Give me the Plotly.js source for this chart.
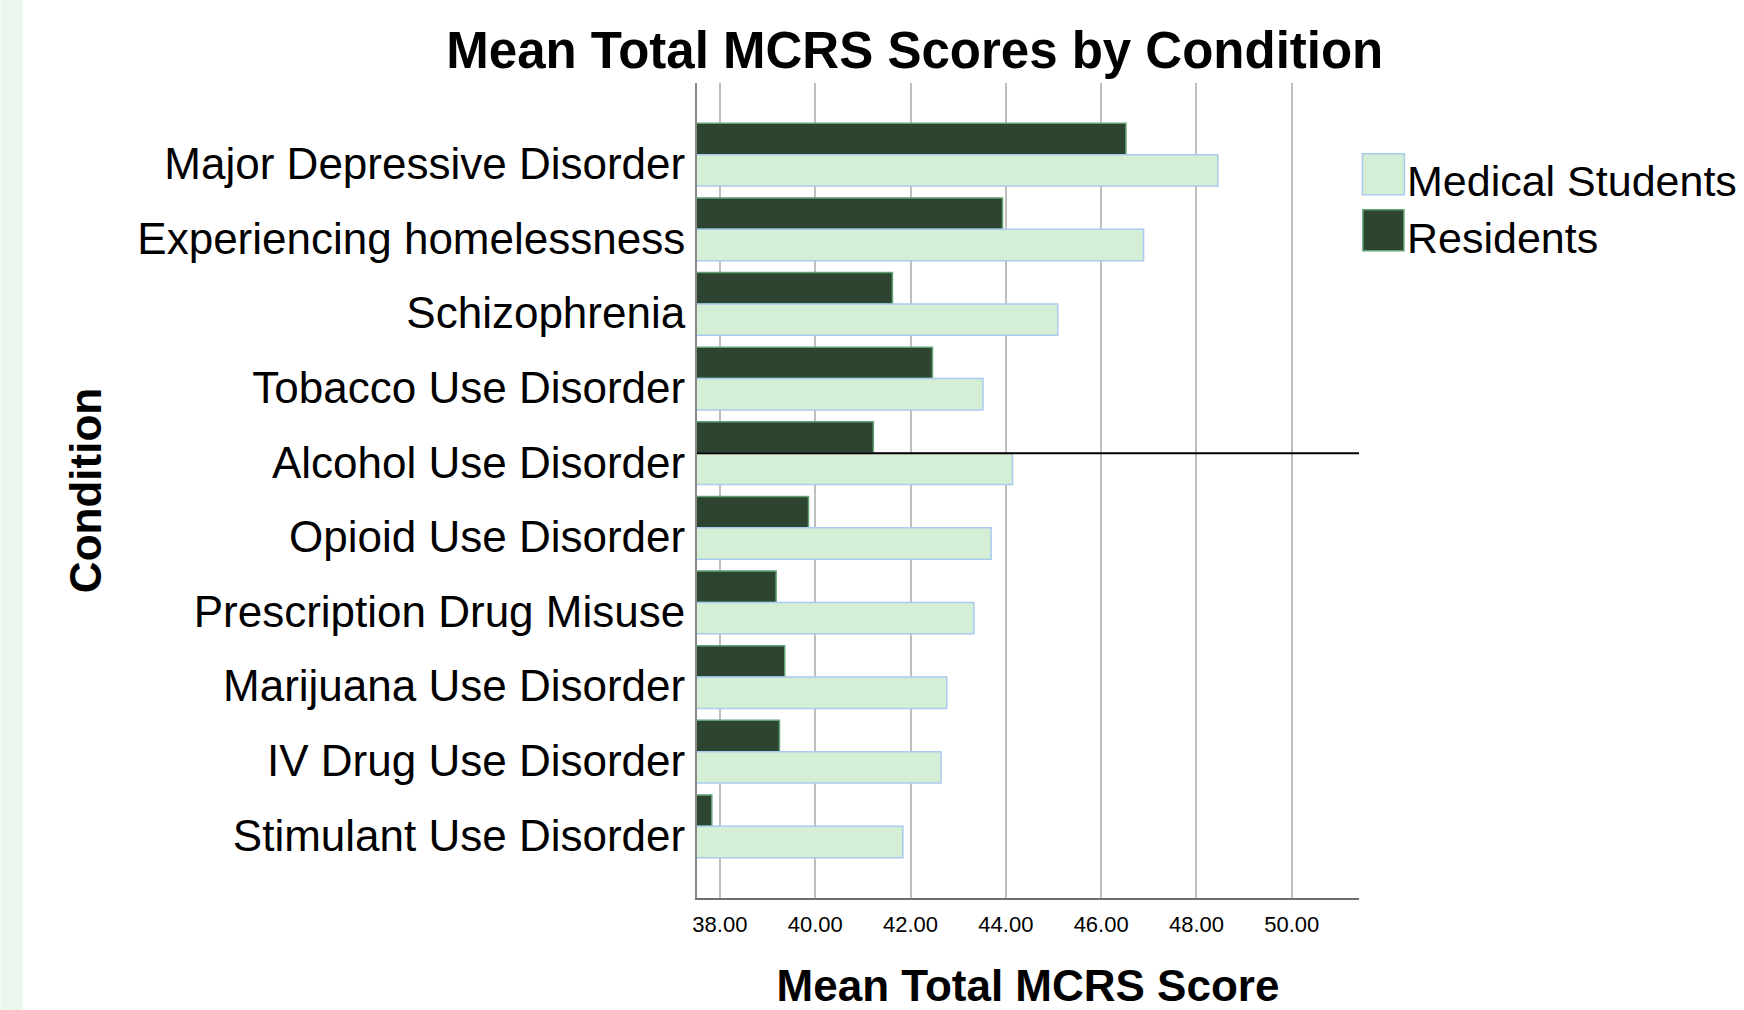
<!DOCTYPE html>
<html>
<head>
<meta charset="utf-8">
<script src="https://cdn.plot.ly/plotly-3.0.1.min.js"></script>
<style>
  html, body { margin: 0; padding: 0; background: #ffffff; }
  #chart { width: 1744px; height: 1010px; }
</style>
</head>
<body>
<div id="chart"></div>
<script>
// ---- data ----
const categories = [
  "Major Depressive Disorder",
  "Experiencing homelessness",
  "Schizophrenia",
  "Tobacco Use Disorder",
  "Alcohol Use Disorder",
  "Opioid Use Disorder",
  "Prescription Drug Misuse",
  "Marijuana Use Disorder",
  "IV Drug Use Disorder",
  "Stimulant Use Disorder"
];
const residents   = [46.52, 43.93, 41.62, 42.46, 41.22, 39.86, 39.18, 39.36, 39.25, 37.83];
const medStudents = [48.45, 46.89, 45.09, 43.52, 44.14, 43.69, 43.33, 42.76, 42.64, 41.84];
const seriesNames = ["Medical Students", "Residents"];
const referenceLineCategory = "Alcohol Use Disorder";
const chartTitle = "Mean Total MCRS Scores by Condition";
const xTitle = "Mean Total MCRS Score";
const yTitle = "Condition";

// ---- styles / layout geometry ----
const FONT = "Liberation Sans, Arial, Helvetica, sans-serif";
const L = 696.5, R = 385.4, T = 83.4, B = 112.4;
const W = 1744 - L - R, H = 1010 - T - B;
const px2x = p => (p - L) / W;
const py2y = p => 1 - (p - T) / H;

const darkGreen = "#2C4430", darkEdge = "#62A274";
const lightGreen = "#D4EFD6", lightEdge = "#A9CBEF";

const traces = [
  {
    type: "bar", orientation: "h", name: seriesNames[1],
    y: categories, x: residents,
    marker: { color: darkGreen, line: { color: darkEdge, width: 1.5 } },
    showlegend: false, hoverinfo: "skip"
  },
  {
    type: "bar", orientation: "h", name: seriesNames[0],
    y: categories, x: medStudents,
    marker: { color: lightGreen, line: { color: lightEdge, width: 1.5 } },
    showlegend: false, hoverinfo: "skip"
  }
];

const layout = {
  width: 1744, height: 1010,
  margin: { l: L, r: R, t: T, b: B, pad: 0 },
  paper_bgcolor: "#ffffff", plot_bgcolor: "#ffffff",
  font: { family: FONT, color: "#000000" },
  barmode: "group", bargap: 0.16, bargroupgap: 0,
  showlegend: false,
  title: {
    text: chartTitle,
    font: { family: FONT, size: 51, color: "#000000", weight: "bold" },
    x: 914.8 / 1744, xref: "container", xanchor: "center",
    y: 1 - 50 / 1010, yref: "container", yanchor: "middle"
  },
  xaxis: {
    range: [37.52, 51.41], autorange: false,
    tick0: 38, dtick: 2, tickformat: ".2f",
    showgrid: true, gridcolor: "#BEBEBE", gridwidth: 2,
    zeroline: false, showline: true, linecolor: "#6E6E6E", linewidth: 2,
    ticks: "", ticklabelstandoff: 6,
    tickfont: { family: FONT, size: 22, color: "#000000" },
    title: { text: xTitle, standoff: 60, font: { family: FONT, size: 44, color: "#000000", weight: "bold" } },
    automargin: false, fixedrange: true
  },
  yaxis: {
    type: "category", categoryorder: "array", categoryarray: categories,
    range: [9.96, -0.96], autorange: false,
    showgrid: false, zeroline: false,
    showline: true, linecolor: "#8A8A8A", linewidth: 2,
    ticks: "", ticklabelstandoff: 1, ticklabelshift: -9,
    tickfont: { family: FONT, size: 44, color: "#000000" },
    title: { text: yTitle, standoff: 22, font: { family: FONT, size: 44, color: "#000000", weight: "bold" } },
    automargin: false, fixedrange: true
  },
  shapes: [
    // left mint strip of the page
    { type: "rect", xref: "paper", yref: "paper", layer: "below",
      x0: px2x(0), x1: px2x(22), y0: py2y(1010), y1: py2y(0),
      fillcolor: "#EBF6EE", line: { width: 0 } },
    // reference line
    { type: "line", xref: "paper", yref: "y", layer: "above",
      x0: 0, x1: 1, y0: referenceLineCategory, y1: referenceLineCategory,
      line: { color: "#000000", width: 2 } },
    // legend swatches
    { type: "rect", xref: "paper", yref: "paper", layer: "above",
      x0: px2x(1362), x1: px2x(1404), y0: py2y(195), y1: py2y(154),
      fillcolor: lightGreen, line: { color: lightEdge, width: 1.5 } },
    { type: "rect", xref: "paper", yref: "paper", layer: "above",
      x0: px2x(1362.5), x1: px2x(1403.5), y0: py2y(251), y1: py2y(210),
      fillcolor: darkGreen, line: { color: darkEdge, width: 1.5 } }
  ],
  annotations: [
    { xref: "paper", yref: "paper", x: px2x(1405), y: py2y(181),
      xanchor: "left", yanchor: "middle", showarrow: false,
      text: seriesNames[0], font: { family: FONT, size: 43, color: "#000000" } },
    { xref: "paper", yref: "paper", x: px2x(1405), y: py2y(238),
      xanchor: "left", yanchor: "middle", showarrow: false,
      text: seriesNames[1], font: { family: FONT, size: 43, color: "#000000" } }
  ]
};

Plotly.newPlot("chart", traces, layout, { staticPlot: true, displayModeBar: false });
</script>
</body>
</html>
